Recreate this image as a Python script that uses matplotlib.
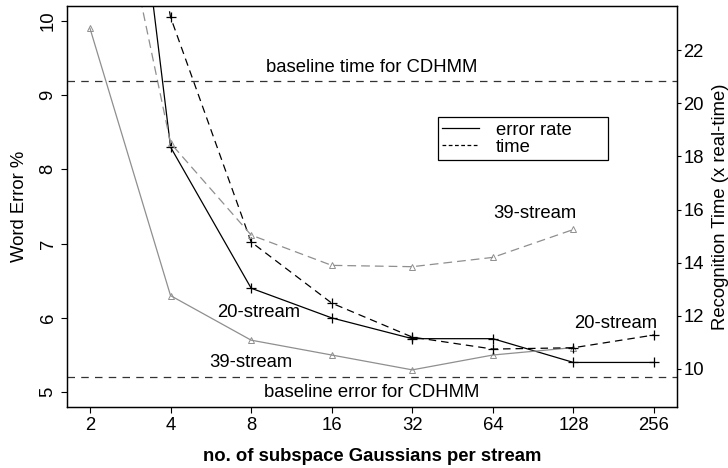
import numpy as np
import matplotlib.pyplot as plt
from matplotlib.lines import Line2D

plt.rcParams['font.family'] = ['Liberation Sans', 'DejaVu Sans']

# subspace Gaussians per stream
gauss = [2, 4, 8, 16, 32, 64, 128, 256]
gauss39 = [2, 4, 8, 16, 32, 64, 128]

# word error % (left axis)
err20 = [17.2, 8.3, 6.4, 6.0, 5.72, 5.72, 5.4, 5.4]
err39 = [9.9, 6.3, 5.7, 5.5, 5.3, 5.5, 5.6]

# recognition time, x real-time (right axis)
time20 = [40.0, 23.24, 14.78, 12.48, 11.2, 10.75, 10.8, 11.28]
time39 = [33.0, 18.5, 15.04, 13.9, 13.85, 14.2, 15.25]

base_err = 5.2
base_time = 20.82

grey = '#8f8f8f'
fs = 13.3

fig = plt.figure(figsize=(7.28, 4.68), dpi=100)
ax = fig.add_axes([67/728, 61/468, 610/728, 401/468])
ax2 = ax.twinx()

ax.plot(gauss, err20, color='black', lw=0.9, marker='+', ms=7, mew=0.9)
ax.plot(gauss39, err39, color=grey, lw=0.9, marker='^', ms=5, mfc='none', mew=0.7)
ax2.plot(gauss, time20, color='black', lw=0.9, ls=(0, (6, 4)), marker='+', ms=7, mew=0.9)
ax2.plot(gauss39, time39, color=grey, lw=0.9, ls=(0, (7, 4)), marker='^', ms=5, mfc='none', mew=0.7)

ax.axhline(base_err, color='#333333', lw=0.9, ls=(0, (6, 5)))
ax2.axhline(base_time, color='#333333', lw=0.9, ls=(0, (6, 5)))

ax.set_xscale('log', base=2)
ax.set_xlim(2**0.715, 2**8.285)
ax.set_xticks(gauss)
ax.set_xticklabels([str(g) for g in gauss])
ax.minorticks_off()
ax.set_ylim(4.8, 10.2)
ax.set_yticks([5, 6, 7, 8, 9, 10])
ax2.set_ylim(8.57, 23.66)
ax2.set_yticks([10, 12, 14, 16, 18, 20, 22])

ax.tick_params(axis='both', direction='out', length=4.5, width=0.8, labelsize=fs, pad=3)
ax.tick_params(axis='y', labelrotation=90)
for t in ax.get_yticklabels():
    t.set_va('center')
ax2.tick_params(axis='y', direction='out', length=3, width=0.8, labelsize=fs, pad=1.5)
for a in (ax, ax2):
    for s in a.spines.values():
        s.set_linewidth(0.9)

ax.set_xlabel('no. of subspace Gaussians per stream', fontsize=fs, fontweight='bold', labelpad=10)
ax.set_ylabel('Word Error %', fontsize=fs, labelpad=8)
ax2.set_ylabel('Recognition Time (x real-time)', fontsize=fs, labelpad=6)

ax.text(2**4.5, 9.37, 'baseline time for CDHMM', fontsize=fs, ha='center', va='center')
ax.text(2**4.5, 4.99, 'baseline error for CDHMM', fontsize=fs, ha='center', va='center')
ax.text(2**6.52, 7.41, '39-stream', fontsize=fs, ha='center', va='center')
ax.text(2**7.53, 5.93, '20-stream', fontsize=fs, ha='center', va='center')
ax.text(2**3.1, 6.07, '20-stream', fontsize=fs, ha='center', va='center')
ax.text(2**3.0, 5.40, '39-stream', fontsize=fs, ha='center', va='center')

handles = [Line2D([], [], color='black', lw=0.9),
           Line2D([], [], color='black', lw=0.9, ls=(0, (3, 2)))]
leg = ax2.legend(handles, ['error rate', 'time'], loc='upper left',
                 bbox_to_anchor=(0.608, 0.618, 0.279, 0.105), mode='expand',
                 fontsize=fs, frameon=True,
                 fancybox=False, edgecolor='black', framealpha=1,
                 handlelength=2.0, handletextpad=0.9, labelspacing=0.0,
                 borderpad=0.25, borderaxespad=0)
leg.get_frame().set_linewidth(0.9)

fig.savefig('out.png', dpi=100)
